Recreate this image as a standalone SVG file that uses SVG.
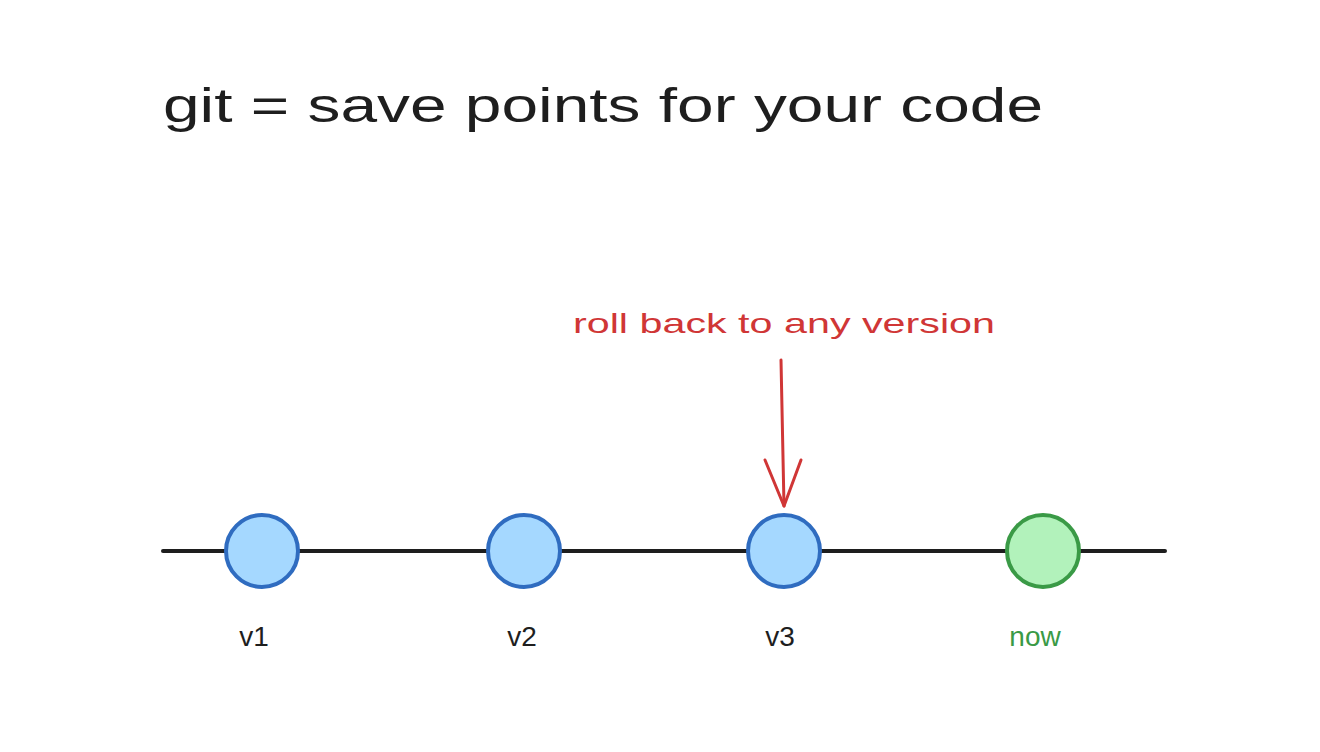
<svg xmlns="http://www.w3.org/2000/svg" width="1320" height="752" viewBox="0 0 1320 752">
<defs>
<style>
text{font-family:"Liberation Sans",Arial,sans-serif}
.lbl{font-size:28px;fill:#1e1e1e;text-anchor:middle}
.blue{fill:#a5d8ff;stroke:#2f6cc0;stroke-width:4}
.green{fill:#b2f2bb;stroke:#3a9a46;stroke-width:4}
</style>
<marker id="ah" viewBox="0 0 20 20" refX="10" refY="18" markerWidth="20" markerHeight="20" markerUnits="userSpaceOnUse" orient="auto-start-reverse">
</marker>
</defs>
<rect width="1320" height="752" fill="#ffffff"/>
<text x="163" y="122" font-size="48" fill="#1e1e1e" textLength="880" lengthAdjust="spacingAndGlyphs">git = save points for your code</text>
<g id="connectors" fill="none" stroke-linecap="round">
<line x1="163" y1="551" x2="1165" y2="551" stroke="#1e1e1e" stroke-width="4"/>
<path d="M781 360 L784 506" stroke="#d03636" stroke-width="3"/>
<path d="M765 460 L784 506 L801 460" stroke="#d03636" stroke-width="3" stroke-linejoin="round"/>
</g>
<g id="v1"><circle cx="262" cy="551" r="36" class="blue"/><text x="254" y="646" class="lbl">v1</text></g>
<g id="v2"><circle cx="524" cy="551" r="36" class="blue"/><text x="522" y="646" class="lbl">v2</text></g>
<g id="v3"><circle cx="784" cy="551" r="36" class="blue"/><text x="780" y="646" class="lbl">v3</text></g>
<g id="now"><circle cx="1043" cy="551" r="36" class="green"/><text x="1035" y="646" class="lbl" style="fill:#3a9a46">now</text></g>
<g id="note"><text x="573" y="333" font-size="28" fill="#d03636" textLength="422" lengthAdjust="spacingAndGlyphs">roll back to any version</text></g>
</svg>
